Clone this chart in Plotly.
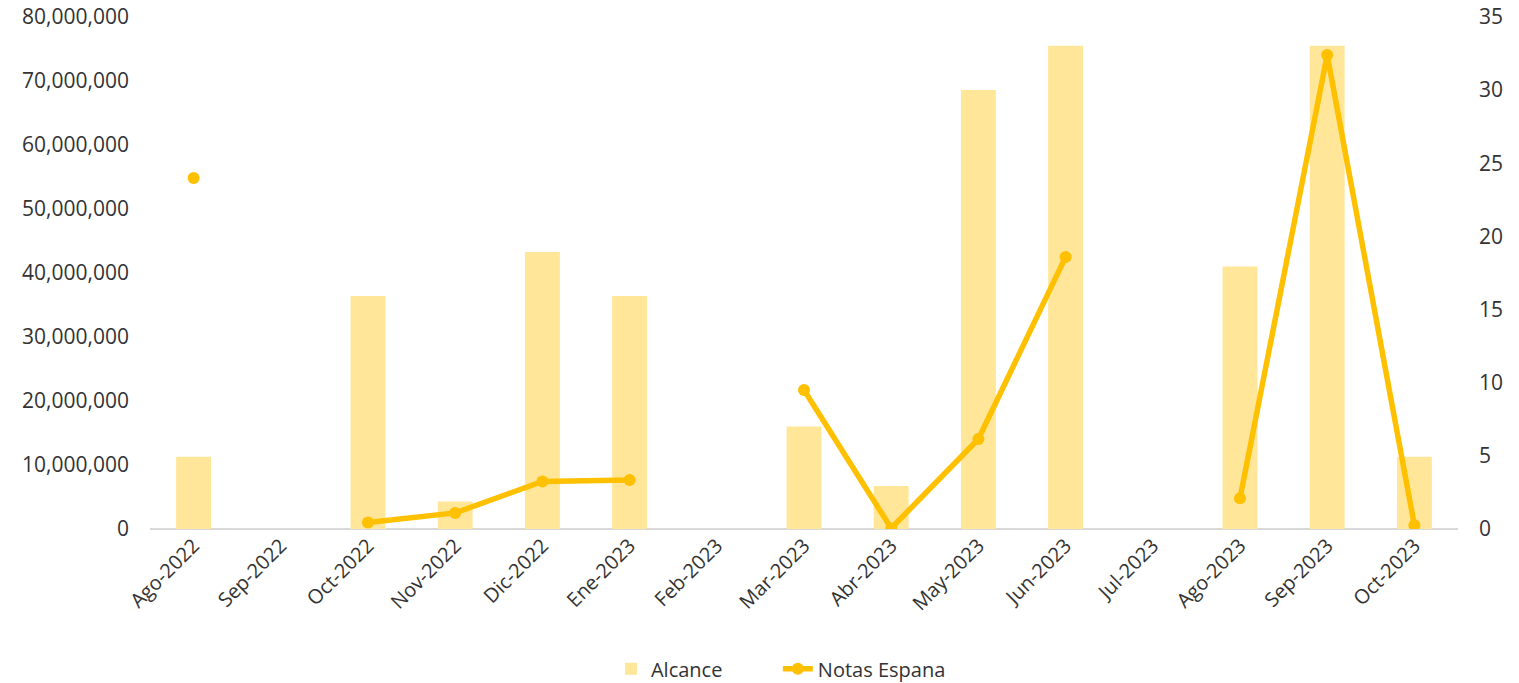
import plotly.graph_objects as go

months = ["Ago-2022", "Sep-2022", "Oct-2022", "Nov-2022", "Dic-2022", "Ene-2023",
          "Feb-2023", "Mar-2023", "Abr-2023", "May-2023", "Jun-2023", "Jul-2023",
          "Ago-2023", "Sep-2023", "Oct-2023"]
alcance = [11300000, None, 36400000, 4300000, 43300000, 36400000,
           None, 16000000, 6700000, 68600000, 75500000, None,
           41000000, 75500000, 11300000]
notas = [24.0, None, 0.45, 1.1, 3.25, 3.35,
         None, 9.5, 0.05, 6.15, 18.6, None,
         2.1, 32.4, 0.25]

left_ticks = [0, 10000000, 20000000, 30000000, 40000000, 50000000, 60000000, 70000000, 80000000]
right_ticks = [0, 5, 10, 15, 20, 25, 30, 35]

font_family = "Open Sans"
txt = "#333333"

fig = go.Figure()
fig.add_trace(go.Bar(
    x=months, y=alcance, name="Alcance",
    marker=dict(color="#FFE699", line=dict(width=0)),
    width=0.4, yaxis="y", legend="legend",
))
fig.add_trace(go.Scatter(
    x=months, y=notas, name="Notas Espana",
    mode="lines+markers",
    line=dict(color="#FFC000", width=5.5),
    marker=dict(color="#FFC000", size=12),
    connectgaps=False, yaxis="y2", legend="legend2",
))

legend_common = dict(orientation="h", xanchor="left", y=-0.273, yanchor="middle",
                     font=dict(size=20, color=txt), bgcolor="rgba(0,0,0,0)")

fig.update_layout(
    width=1519, height=683,
    margin=dict(l=150, r=61, t=17, b=154, autoexpand=False),
    paper_bgcolor="white", plot_bgcolor="white",
    font=dict(family=font_family, size=20, color=txt),
    xaxis=dict(
        type="category", range=[-0.5, len(months) - 0.5],
        tickangle=-45, showgrid=False, showline=False,
        ticks="", tickfont=dict(size=20, color=txt), automargin=False,
    ),
    yaxis=dict(
        range=[0, 80000000], tickvals=left_ticks, tickformat=",d",
        showgrid=False, zeroline=True, zerolinecolor="#D9D9D9", zerolinewidth=2,
        showline=False, ticks="", ticklabelstandoff=20,
        ticklabeloverflow="allow",
        tickfont=dict(size=21, color=txt), automargin=False,
    ),
    yaxis2=dict(
        range=[0, 35], tickvals=right_ticks, overlaying="y", side="right",
        showgrid=False, zeroline=False, showline=False, ticks="",
        ticklabelstandoff=20, ticklabeloverflow="allow",
        tickfont=dict(size=21, color=txt), automargin=False,
    ),
    legend=dict(x=0.3524, **legend_common),
    legend2=dict(x=0.480, **legend_common),
    showlegend=True,
)

fig.write_html("out.html", config={"displayModeBar": False},
               post_script="document.body.style.margin='0px';document.body.style.padding='0px';")
